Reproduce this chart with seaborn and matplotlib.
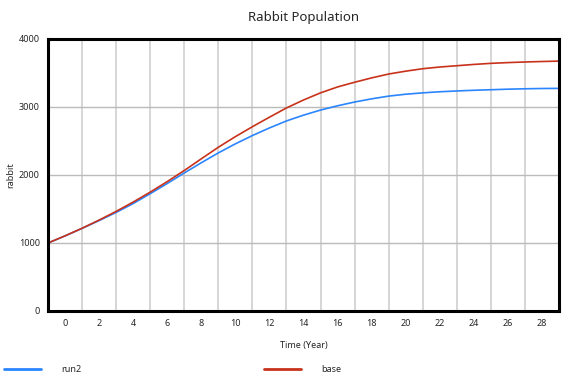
import pandas as pd
import matplotlib.pyplot as plt
import seaborn as sns
from matplotlib.ticker import MultipleLocator

sns.set_style("white")
plt.rcParams["font.family"] = ["Noto Sans", "DejaVu Sans"]

# ----------------------------------------------------------
# data (time axis as displayed)
time = list(range(-1, 30))
base = [1000, 1105, 1217, 1337, 1465, 1602, 1748, 1903, 2066, 2238,
        2408, 2564, 2710, 2850, 2986, 3103, 3208, 3295, 3364, 3428,
        3485, 3527, 3563, 3588, 3607, 3626, 3642, 3653, 3662, 3669, 3675]
run2 = [1000, 1104, 1215, 1330, 1450, 1580, 1725, 1875, 2030, 2180,
        2325, 2458, 2580, 2692, 2795, 2880, 2955, 3018, 3073, 3120,
        3160, 3188, 3208, 3224, 3236, 3246, 3254, 3262, 3268, 3272, 3274]
series = ["run2", "base"]
colors = {"run2": "#2a85ff", "base": "#c8321a"}

df = pd.concat([
    pd.DataFrame({"time": time, "rabbit": run2, "run": "run2"}),
    pd.DataFrame({"time": time, "rabbit": base, "run": "base"}),
], ignore_index=True)

# ----------------------------------------------------------
fig = plt.figure(figsize=(5.76, 3.84), dpi=100)
ax = fig.add_axes([48 / 576, 73 / 384, 511 / 576, 272 / 384])

sns.lineplot(data=df, x="time", y="rabbit", hue="run", hue_order=series,
             palette=colors, linewidth=1.2, ax=ax, legend=False)

ax.set_xlim(-1, 29)
ax.set_ylim(0, 4000)
ax.xaxis.set_major_locator(MultipleLocator(2))
ax.xaxis.set_minor_locator(MultipleLocator(2, offset=1))
ax.yaxis.set_major_locator(MultipleLocator(1000))
ax.grid(axis="x", which="minor", color="#d0d0d0", linewidth=1.2)
ax.grid(axis="y", which="major", color="#bbbbbb", linewidth=1.0)
ax.set_axisbelow(True)
ax.tick_params(which="both", length=0, labelsize=6.5, pad=6)
for s in ax.spines.values():
    s.set_color("black")
    s.set_linewidth(2.2)

ax.set_title("Rabbit Population", fontsize=9.5, pad=13)
ax.set_xlabel("Time (Year)", fontsize=6.5, labelpad=9)
ax.set_ylabel("rabbit", fontsize=6.5)
ax.yaxis.set_label_coords(-33 / 511, 0.5)

handles = [plt.Line2D([], [], color=colors[s], linewidth=2) for s in series]
fig.legend(handles, series, loc="lower left", bbox_to_anchor=(4 / 576, 0.025),
           ncol=2, frameon=False, fontsize=6.5, borderpad=0, borderaxespad=0,
           handlelength=4.1, handletextpad=2.2, columnspacing=20.3)

fig.savefig("out.png", dpi=100)
